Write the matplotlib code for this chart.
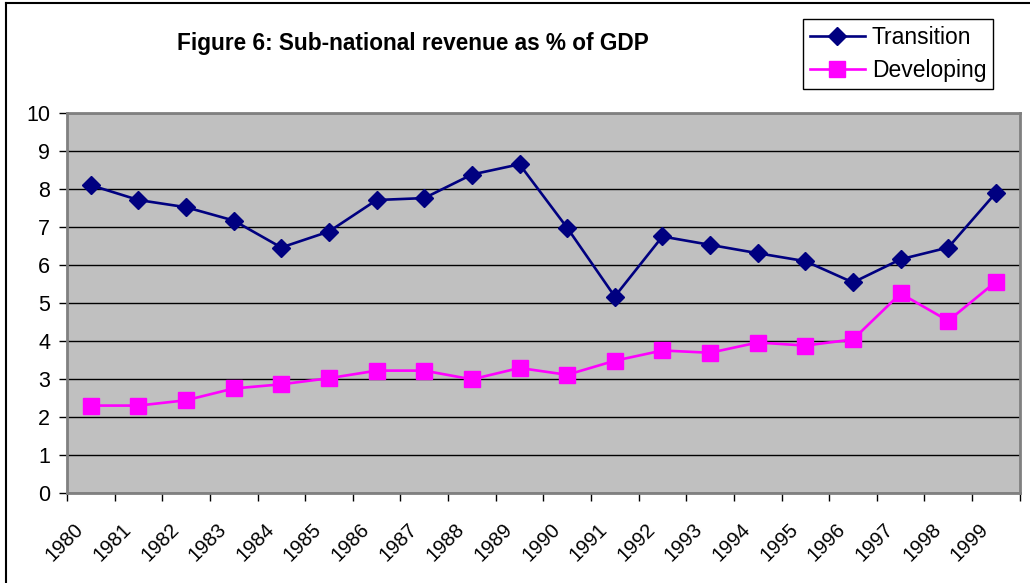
import numpy as np
import matplotlib.pyplot as plt
import matplotlib.transforms as mtransforms
from matplotlib.lines import Line2D

plt.rcParams['font.family'] = ['Liberation Sans', 'DejaVu Sans']

years = [str(y) for y in range(1980, 2000)]
transition = [8.10, 7.71, 7.52, 7.17, 6.46, 6.88, 7.71, 7.76, 8.38, 8.65,
              6.98, 5.17, 6.75, 6.53, 6.31, 6.10, 5.54, 6.15, 6.46, 7.90]
developing = [2.30, 2.30, 2.44, 2.75, 2.86, 3.02, 3.22, 3.22, 2.99, 3.29,
              3.11, 3.48, 3.75, 3.69, 3.96, 3.88, 4.04, 5.25, 4.53, 5.56]

fig = plt.figure(figsize=(10.3, 5.83), dpi=100)
ax = fig.add_axes([0.065, 0.1544, 0.925, 0.6518])
ax.set_facecolor('#C0C0C0')

x = np.arange(len(years))
ax.plot(x, transition, color='#000080', lw=1.9, marker='D', ms=9.3,
        label='Transition', zorder=3)
ax.plot(x, developing, color='#FF00FF', lw=1.9, marker='s', ms=11,
        label='Developing', zorder=3)

ax.set_xlim(-0.5, len(years) - 0.5)
ax.set_ylim(0, 10)
ax.set_yticks(range(0, 11))
ax.yaxis.grid(True, color='black', lw=1)
ax.set_axisbelow(True)

ax.set_xticks(x)
ax.set_xticklabels(years, rotation=45, ha='right', va='top',
                   rotation_mode='anchor', fontsize=14.5)
ax.tick_params(axis='x', length=0, pad=19)
shift = mtransforms.ScaledTranslation(-0.17, 0, fig.dpi_scale_trans)
for lab in ax.get_xticklabels():
    lab.set_transform(lab.get_transform() + shift)
ax.set_xticks(np.arange(-0.5, len(years)), minor=True)
ax.tick_params(axis='x', which='minor', length=6, width=1, color='black')
ax.tick_params(axis='y', labelsize=15.5, length=6, width=1, color='black', pad=6)

for s in ax.spines.values():
    s.set_color('#808080')
    s.set_linewidth(2)

fig.text(0.401, 0.925, 'Figure 6: Sub-national revenue as % of GDP',
         ha='center', va='center', fontsize=16.3, fontweight='bold')

leg = ax.legend(loc='upper left', bbox_to_anchor=(803 / 1030, 1 - 19 / 583),
                bbox_transform=fig.transFigure, fontsize=16.5, frameon=True,
                fancybox=False, edgecolor='black', framealpha=1,
                handlelength=2.4, borderpad=0.3, labelspacing=0.45,
                handletextpad=0.3, borderaxespad=0)
leg.get_frame().set_linewidth(1)

fig.add_artist(Line2D([6 / 1030, 6 / 1030], [0, 1 - 3 / 583], color='black', lw=1.5))
fig.add_artist(Line2D([6 / 1030, 1], [1 - 3 / 583, 1 - 3 / 583], color='black', lw=1.5))

fig.savefig('out.png', dpi=100)
